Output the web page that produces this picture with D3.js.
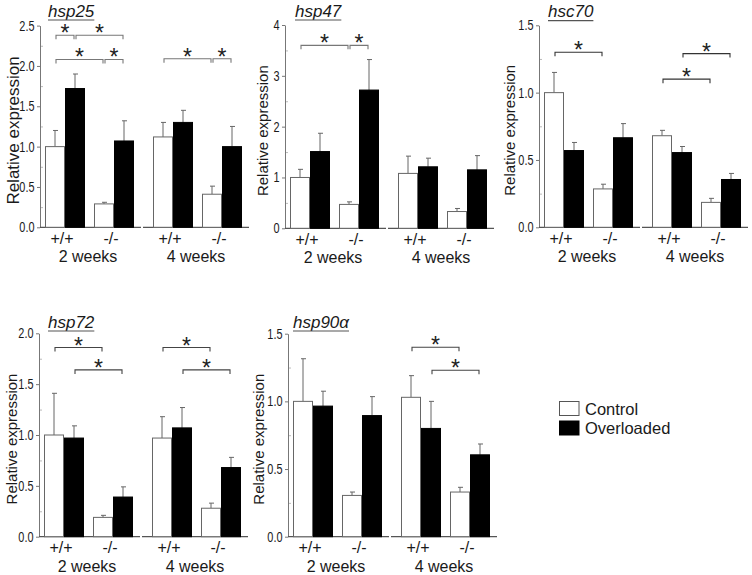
<!DOCTYPE html>
<html>
<head>
<meta charset="utf-8">
<script src="https://cdn.jsdelivr.net/npm/d3@7"></script>
<style>
  html, body { margin: 0; padding: 0; background: #fff; }
  svg { display: block; }
</style>
</head>
<body>
<div id="chart"></div>
<script>
// ---------------- data ----------------
const groups = ["2 weeks", "4 weeks"];
const genotypes = ["+/+", "-/-"];
const series = ["Control", "Overloaded"];
const genes = ["hsp25", "hsp47", "hsc70", "hsp72", "hsp90\u03b1"];

// order: 2w +/+ C, 2w +/+ O, 2w -/- C, 2w -/- O, 4w +/+ C, 4w +/+ O, 4w -/- C, 4w -/- O
const hsp25Mean = [1.00, 1.72, 0.29, 1.07, 1.12, 1.30, 0.41, 1.00];
const hsp25Err  = [0.20, 0.18, 0.02, 0.25, 0.18, 0.15, 0.10, 0.25];
const hsp47Mean = [1.00, 1.51, 0.47, 2.72, 1.08, 1.21, 0.33, 1.15];
const hsp47Err  = [0.16, 0.36, 0.05, 0.60, 0.34, 0.17, 0.06, 0.28];
const hsc70Mean = [1.00, 0.57, 0.285, 0.665, 0.68, 0.555, 0.185, 0.355];
const hsc70Err  = [0.15, 0.06, 0.035, 0.105, 0.04, 0.045, 0.03, 0.045];
const hsp72Mean = [1.00, 0.97, 0.19, 0.39, 0.97, 1.07, 0.28, 0.68];
const hsp72Err  = [0.41, 0.12, 0.02, 0.10, 0.21, 0.20, 0.05, 0.10];
const hsp90Mean = [1.00, 0.965, 0.305, 0.895, 1.03, 0.80, 0.33, 0.605];
const hsp90Err  = [0.315, 0.11, 0.025, 0.14, 0.16, 0.20, 0.035, 0.08];

const hsp25Ticks = [0, 0.5, 1.0, 1.5, 2.0, 2.5];
const hsp47Ticks = [0, 1, 2, 3, 4];
const hsc70Ticks = [0, 0.5, 1.0, 1.5];
const hsp72Ticks = [0, 0.5, 1.0, 1.5, 2.0];
const hsp90Ticks = [0, 0.5, 1.0, 1.5];

// significance brackets: [bar index a, bar index b, level]
const hsp25Sig = [[0, 1, 2.38], [1, 3, 2.38], [0, 2, 2.08], [2, 3, 2.08], [4, 6, 2.09], [6, 7, 2.09]];
const hsp47Sig = [[0, 2, 3.60], [2, 3, 3.60]];
const hsc70Sig = [[0, 2, 1.30], [4, 6, 1.10], [5, 7, 1.29]];
const hsp72Sig = [[0, 2, 1.86], [1, 3, 1.64], [4, 6, 1.86], [5, 7, 1.64]];
const hsp90Sig = [[4, 6, 1.40], [5, 7, 1.23]];

// ---------------- layout ----------------
const panels = [
  {gene: genes[0], mean: hsp25Mean, err: hsp25Err, ticks: hsp25Ticks, sig: hsp25Sig, fmt: ".1f",
   axisX: 40, baseY: 227.3, topY: 25.6, titleOff: 21, titleSize: 17, titleDx: 8, titleY: 16.7, sigCol: "#777"},
  {gene: genes[1], mean: hsp47Mean, err: hsp47Err, ticks: hsp47Ticks, sig: hsp47Sig, fmt: "d",
   axisX: 285, baseY: 228.3, topY: 25, titleOff: 17, titleSize: 15, titleDx: 10, titleY: 16.7, sigCol: "#777"},
  {gene: genes[2], mean: hsc70Mean, err: hsc70Err, ticks: hsc70Ticks, sig: hsc70Sig, fmt: ".1f",
   axisX: 539, baseY: 227.3, topY: 25.3, titleOff: 24, titleSize: 15, titleDx: 9, titleY: 17.3, sigCol: "#333"},
  {gene: genes[3], mean: hsp72Mean, err: hsp72Err, ticks: hsp72Ticks, sig: hsp72Sig, fmt: ".1f",
   axisX: 39, baseY: 536.7, topY: 333.3, titleOff: 22.5, titleSize: 15, titleDx: 9, titleY: 327.7, sigCol: "#444"},
  {gene: genes[4], mean: hsp90Mean, err: hsp90Err, ticks: hsp90Ticks, sig: hsp90Sig, fmt: ".1f",
   axisX: 288, baseY: 536.7, topY: 333.7, titleOff: 24, titleSize: 15, titleDx: 5, titleY: 327.7, sigCol: "#444"}
];

const W = 752, H = 575;
const FONT = "'Liberation Sans', Arial, Helvetica, sans-serif";
const TXT = "#1a1a1a";
const AXC = "#777";
const NARROW_SCALE = 0.78;

const svg = d3.select("#chart").append("svg")
  .attr("width", W).attr("height", H)
  .attr("viewBox", `0 0 ${W} ${H}`)
  .style("font-family", FONT);

svg.append("rect").attr("width", W).attr("height", H).attr("fill", "#fff");

panels.forEach(p => {
  const g = svg.append("g");
  const ymax = p.ticks[p.ticks.length - 1];
  const y = d3.scaleLinear().domain([0, ymax]).range([p.baseY, p.topY]);
  const x0 = d3.scaleBand().domain(groups).range([p.axisX, p.axisX + 206]).paddingInner(10 / 108);
  const x1 = d3.scaleBand().domain(genotypes).range([5, 94]).paddingInner(9 / 49);
  const x2 = d3.scaleBand().domain(series).range([0, x1.bandwidth()]);

  const bars = [];
  groups.forEach((gr, gi) => genotypes.forEach((gt, ti) => series.forEach((s, si) => {
    const i = gi * 4 + ti * 2 + si;
    const xl = x0(gr) + x1(gt) + x2(s);
    bars.push({i, gr, gt, s, xl, w: x2.bandwidth(), v: p.mean[i], e: p.err[i]});
  })));

  // minor inside ticks
  const minorStep = (p.ticks[1] - p.ticks[0]) / 2;
  const minor = d3.range(0, ymax + 1e-9, minorStep).filter(v => !p.ticks.some(t => Math.abs(t - v) < 1e-9));
  const minorAxis = g.append("g").attr("transform", `translate(${p.axisX},0)`)
    .call(d3.axisRight(y).tickValues(minor).tickSize(3).tickFormat(""));
  minorAxis.select(".domain").remove();
  minorAxis.selectAll("line").attr("stroke", "#bbb");

  // y axis
  const ax = g.append("g").attr("transform", `translate(${p.axisX},0)`)
    .call(d3.axisLeft(y).tickValues(p.ticks).tickSize(3).tickSizeOuter(0).tickPadding(3)
      .tickFormat(d3.format(p.fmt)));
  ax.select(".domain").attr("stroke", AXC);
  ax.selectAll(".tick line").attr("stroke", AXC);
  ax.selectAll(".tick text")
    .attr("fill", TXT).style("font-size", "14px")
    .attr("x", -5.5 / NARROW_SCALE)
    .attr("transform", `scale(${NARROW_SCALE},1)`);

  // y title (baseline at translate x, glyphs extend to the left)
  g.append("text")
    .attr("transform", `translate(${p.axisX - p.titleOff},${(p.baseY + p.topY) / 2 + 4}) rotate(-90)`)
    .attr("text-anchor", "middle")
    .attr("fill", TXT).style("font-size", p.titleSize + "px")
    .text("Relative expression");

  // baseline segments
  groups.forEach(gr => {
    g.append("line")
      .attr("x1", x0(gr) - (gr === groups[0] ? 0 : 5)).attr("x2", x0(gr) + x0.bandwidth() + 3)
      .attr("y1", y(0)).attr("y2", y(0))
      .attr("stroke", "#555").attr("stroke-width", 1.2);
  });

  // error bars
  bars.forEach(b => {
    const cx = b.xl + b.w / 2;
    g.append("line").attr("x1", cx).attr("x2", cx)
      .attr("y1", y(b.v)).attr("y2", y(b.v + b.e))
      .attr("stroke", "#666").attr("stroke-width", 1);
    g.append("line").attr("x1", cx - 2).attr("x2", cx + 3)
      .attr("y1", y(b.v + b.e)).attr("y2", y(b.v + b.e))
      .attr("stroke", "#666").attr("stroke-width", 1);
  });

  // bars
  g.selectAll("rect.bar").data(bars).enter().append("rect")
    .attr("class", "bar")
    .attr("x", d => d.xl + 0.5).attr("width", d => d.w - 1)
    .attr("y", d => y(d.v)).attr("height", d => y(0) - y(d.v))
    .attr("fill", d => d.s === "Control" ? "#fff" : "#000")
    .attr("stroke", d => d.s === "Control" ? "#666" : "#000")
    .attr("stroke-width", 1);

  // x labels
  groups.forEach(gr => {
    genotypes.forEach(gt => {
      g.append("text")
        .attr("x", x0(gr) + x1(gt) + x1.bandwidth() / 2 - 3)
        .attr("y", p.baseY + 16.5)
        .attr("text-anchor", "middle").attr("fill", TXT)
        .style("font-size", "16px").text(gt);
    });
    g.append("text")
      .attr("x", x0(gr) + x0.bandwidth() / 2 - 1)
      .attr("y", p.baseY + 35)
      .attr("text-anchor", "middle").attr("fill", TXT)
      .style("font-size", "16px").text(gr);
  });

  // gene title (italic, underlined)
  const tt = g.append("text")
    .attr("x", p.axisX + p.titleDx).attr("y", p.titleY)
    .attr("fill", TXT).style("font-size", "17px").style("font-style", "italic")
    .text(p.gene);
  const tl = tt.node().getComputedTextLength();
  g.append("line")
    .attr("x1", p.axisX + p.titleDx).attr("x2", p.axisX + p.titleDx + tl)
    .attr("y1", p.titleY + 3.3).attr("y2", p.titleY + 3.3)
    .attr("stroke", "#555").attr("stroke-width", 1.2);

  // significance brackets
  p.sig.forEach(([a, b, lvl]) => {
    const xa = bars[a].xl + bars[a].w / 2 + 1;
    const xb = bars[b].xl + bars[b].w / 2 - 1;
    const yy = y(lvl);
    g.append("path")
      .attr("d", `M${xa},${yy + 4}V${yy}H${xb}V${yy + 4}`)
      .attr("fill", "none").attr("stroke", p.sigCol).attr("stroke-width", 1.1);
    g.append("text")
      .attr("x", (xa + xb) / 2).attr("y", yy + 6)
      .attr("text-anchor", "middle").attr("fill", "#222")
      .style("font-size", "23px").text("*");
  });
});

// legend
const legend = svg.append("g").attr("transform", "translate(559,401)");
series.forEach((s, i) => {
  legend.append("rect")
    .attr("x", 0.5).attr("y", i * 19.5 + 0.5).attr("width", 19.5).attr("height", 14)
    .attr("fill", s === "Control" ? "#fff" : "#000")
    .attr("stroke", s === "Control" ? "#555" : "#000");
  legend.append("text")
    .attr("x", 26).attr("y", i * 19.5 + 13.5)
    .attr("fill", TXT).style("font-size", "16.5px").text(s);
});
</script>
</body>
</html>
